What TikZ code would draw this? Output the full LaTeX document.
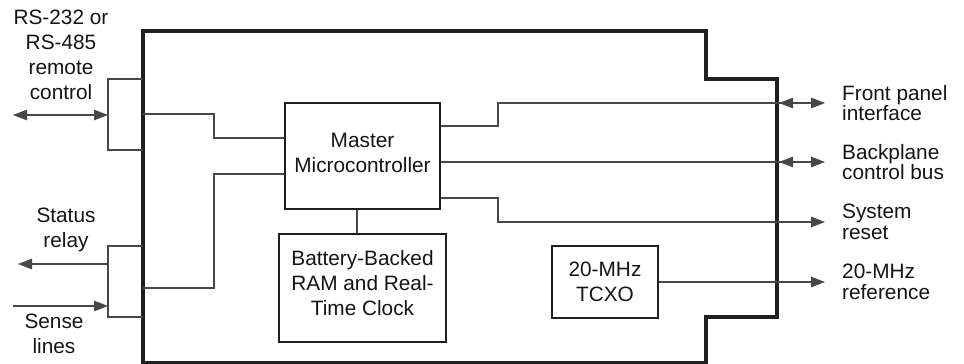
\documentclass[tikz,border=0pt]{standalone}
\usepackage{fontspec}
\setmainfont{Liberation Sans}
\usetikzlibrary{arrows.meta,calc}
\begin{document}
\begin{tikzpicture}[x=1pt,y=-1pt,
  >={Triangle[length=14pt,width=10.5pt]},
  lbl/.style={font=\fontsize{20.8}{25}\selectfont, text=black!92, inner sep=0pt, align=center},
  rlbl/.style={font=\fontsize{20.8}{20.7}\selectfont, text=black!92, inner sep=0pt, align=left, anchor=west},
  blk/.style={draw=black!88, line width=2.8pt, inner sep=0pt, text=black!92,
              font=\fontsize{20.8}{25}\selectfont, align=center},
  thin/.style={draw=black!72, line width=1.1pt},
  outer/.style={draw=black!88, line width=4pt, line join=miter}]
\useasboundingbox (0,0) rectangle (964,364);

% outer enclosure
\draw[outer] (143,31) -- (706,31) -- (706,79) -- (777,79) -- (777,317)
  -- (706,317) -- (706,363) -- (143,363) -- cycle;

% blocks
\node[blk, minimum width=155pt, minimum height=106pt, text depth=7pt] (mc) at (362.5,156) {Master\\Microcontroller};
\node[blk, minimum width=167pt, minimum height=108pt, text depth=10pt] (bat) at (362.5,288) {Battery-Backed\\RAM and Real-\\Time Clock};
\node[blk, minimum width=106pt, minimum height=72pt] (tcxo) at (605,282) {20-MHz\\TCXO};

% left labels
\node[lbl, anchor=south] (rsl) at (61,100) {RS-232 or\\RS-485\\remote\\control};
\node[lbl, anchor=north] (stl) at (66,207.5) {Status\\relay};
\node[lbl, anchor=south] (snl) at (54,354) {Sense\\lines};

% right labels
\node[rlbl] (fpl) at (842,103) {Front panel\\interface};
\node[rlbl] (bpl) at (842,162) {Backplane\\control bus};
\node[rlbl] (srl) at (842,222) {System\\reset};
\node[rlbl] (rfl) at (842,282) {20-MHz\\reference};

% coordinates
\coordinate (rsa) at (13,115);   \coordinate (rsb) at (108,115);
\coordinate (sta) at (18,264);   \coordinate (stb) at (108,264);
\coordinate (sna) at (13,306);   \coordinate (snb) at (108,306);
\coordinate (fpe) at (779,103);  \coordinate (fp) at (825,103);
\coordinate (bpe) at (779,162);  \coordinate (bp) at (825,162);
\coordinate (sr) at (825,222);
\coordinate (rf) at (825,282);

% left brackets
\draw[thin] (143,79) -- (108,79) -- (108,150) -- (143,150);
\draw[thin] (143,246) -- (108,246) -- (108,317) -- (143,317);

% left arrows
\draw[thin, <->] (rsa) -- (rsb);
\draw[thin, ->] (stb) -- (sta);
\draw[thin, ->] (sna) -- (snb);

% internal wiring left
\draw[thin] (143,114) -| (214,138) -- (mc.west |- 0,138);
\draw[thin] (mc.west |- 0,174) -| (214,288) -- (143,288);

% micro to RAM
\draw[thin] ([xshift=-5.5pt]mc.south) -- ([xshift=-5.5pt]mc.south |- bat.north);

% right wiring
\draw[thin, ->] (mc.east |- 0,126) -| (498,103) -- (fp);
\draw[thin, <-] (fpe) -- ++(15,0);
\draw[thin, ->] (mc.east |- 0,162) -- (bp);
\draw[thin, <-] (bpe) -- ++(15,0);
\draw[thin, ->] (mc.east |- 0,198) -| (498,222) -- (sr);
\draw[thin, ->] (tcxo.east) -- (rf);
\end{tikzpicture}
\end{document}
